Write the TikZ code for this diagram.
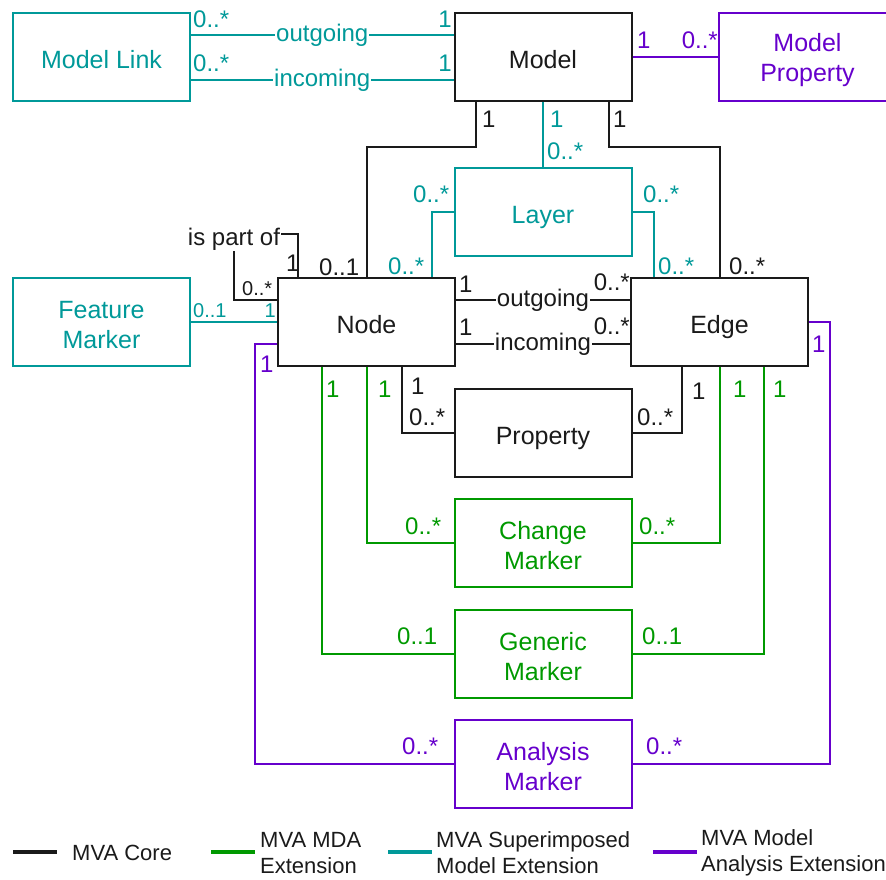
\documentclass[tikz,border=0pt]{standalone}
\usepackage{fontspec}
\setmainfont{Liberation Sans}
\definecolor{core}{RGB}{26,26,26}
\definecolor{mda}{RGB}{0,153,0}
\definecolor{sup}{RGB}{0,153,153}
\definecolor{ana}{RGB}{102,0,204}
% struts that set class names slightly below the box centre
\newcommand\boxstrut{\rule{0pt}{24pt}}
\newcommand\onestrut{\rule[-6pt]{0pt}{34pt}}
\tikzset{
  cls/.style={draw, line width=2pt, minimum width=177pt, minimum height=88pt,
    inner sep=0pt, align=center, font=\fontsize{25}{30}\selectfont},
  conn/.style={line width=2pt},
  mult/.style={inner sep=0pt, anchor=base west, font=\fontsize{24}{28}\selectfont},
  multr/.style={mult, anchor=base east},
  smult/.style={mult, font=\fontsize{20}{24}\selectfont},
  smultr/.style={smult, anchor=base east},
  role/.style={fill=white, inner sep=1pt, font=\fontsize{24}{28}\selectfont},
  legline/.style={line width=4pt},
  legtext/.style={anchor=west, inner sep=0pt, align=left, font=\fontsize{22}{26}\selectfont}
}
\begin{document}
\begin{tikzpicture}[x=1pt, y=-1pt]
\useasboundingbox (0,0) rectangle (886,879);

% classes
\node[cls, core] (Model) at (543,57) {\onestrut Model};
\node[cls, sup] (ML) at (101.5,57) {\onestrut Model Link};
\node[cls, ana] (MP) at (807.5,57) {\boxstrut Model\\Property};
\node[cls, sup] (Layer) at (543,212) {\onestrut Layer};
\node[cls, sup] (FM) at (101.5,322) {\boxstrut Feature\\Marker};
\node[cls, core] (Node) at (366.5,322) {\onestrut Node};
\node[cls, core] (Edge) at (719.5,322) {\onestrut Edge};
\node[cls, core] (Prop) at (543,433) {\onestrut Property};
\node[cls, mda] (CM) at (543,543) {\boxstrut Change\\Marker};
\node[cls, mda] (GM) at (543,653.5) {\boxstrut Generic\\Marker};
\node[cls, ana] (AM) at (543,764) {\boxstrut Analysis\\Marker};

% superimposed model extension
\draw[conn, sup] ([yshift=22pt]ML.east) -- node[role, text=sup] (mlo) {outgoing} ([yshift=22pt]Model.west);
\draw[conn, sup] ([yshift=-23pt]ML.east) -- node[role, text=sup] (mli) {incoming} ([yshift=-23pt]Model.west);
\draw[conn, sup] (Model.south) -- (Layer.north);
\draw[conn, sup] (Layer.west) -| ([xshift=65.5pt]Node.north);
\draw[conn, sup] (Layer.east) -| ([xshift=-65.5pt]Edge.north);
\draw[conn, sup] (FM.east) -- (Node.west);

% core
\draw[conn, core] ([xshift=-67pt]Model.south) -- ++(0,45) -| (Node.north);
\draw[conn, core] ([xshift=66pt]Model.south) -- ++(0,45) -| (Edge.north);
\draw[conn, core] ([yshift=22pt]Node.east) -- node[role, text=core] (neo) {outgoing} ([yshift=22pt]Edge.west);
\draw[conn, core] ([yshift=-22pt]Node.east) -- node[role, text=core] (nei) {incoming} ([yshift=-22pt]Edge.west);
\node[inner sep=1pt, text=core, font=\fontsize{24}{28}\selectfont] (partof) at (234,239) {is part of};
\draw[conn, core] ([xshift=-68.5pt]Node.north) |- ([yshift=5pt]partof.east);
\draw[conn, core] (partof.south) |- ([yshift=22pt]Node.west);
\draw[conn, core] ([xshift=35.5pt]Node.south) |- (Prop.west);
\draw[conn, core] ([xshift=-37.5pt]Edge.south) |- (Prop.east);

% model analysis extension
\draw[conn, ana] (Model.east) -- (MP.west);
\draw[conn, ana] ([yshift=-22pt]Node.west) -- ++(-22,0) |- (AM.west);
\draw[conn, ana] (Edge.east) -- ++(21,0) |- (AM.east);

% MDA extension
\draw[conn, mda] (Node.south) |- (CM.west);
\draw[conn, mda] ([xshift=-44.5pt]Node.south) |- (GM.west);
\draw[conn, mda] (Edge.south) |- (CM.east);
\draw[conn, mda] ([xshift=44.5pt]Edge.south) |- (GM.east);

% multiplicities: superimposed
\node[mult, text=sup] (s1) at (193,27) {0..*};
\node[multr, text=sup] (s2) at (452,27) {1};
\node[mult, text=sup] (s3) at (193,71) {0..*};
\node[multr, text=sup] (s4) at (452,71) {1};
\node[mult, text=sup] (s5) at (550,127) {1};
\node[mult, text=sup] (s6) at (547,159) {0..*};
\node[mult, text=sup] (s7) at (413,202) {0..*};
\node[mult, text=sup] (s8) at (388,274) {0..*};
\node[mult, text=sup] (s9) at (643,202) {0..*};
\node[mult, text=sup] (s10) at (658,274) {0..*};
\node[smult, text=sup] (s11) at (193,317) {0..1};
\node[smultr, text=sup] (s12) at (276,317) {1};

% multiplicities: core
\node[mult, text=core] (c1) at (482,127) {1};
\node[mult, text=core] (c2) at (613,127) {1};
\node[mult, text=core] (c3) at (286,271) {1};
\node[mult, text=core] (c4) at (319,275) {0..1};
\node[smult, text=core] (c5) at (242,295) {0..*};
\node[mult, text=core] (c6) at (729,274) {0..*};
\node[mult, text=core] (c7) at (459,292) {1};
\node[multr, text=core] (c8) at (630,290) {0..*};
\node[mult, text=core] (c9) at (459,335) {1};
\node[multr, text=core] (c10) at (630,334) {0..*};
\node[mult, text=core] (c11) at (411,394) {1};
\node[mult, text=core] (c12) at (409,425) {0..*};
\node[mult, text=core] (c13) at (637,425) {0..*};
\node[mult, text=core] (c14) at (692,399) {1};

% multiplicities: model analysis
\node[mult, text=ana] (a1) at (637,48) {1};
\node[multr, text=ana] (a2) at (718,48) {0..*};
\node[mult, text=ana] (a3) at (260,372) {1};
\node[mult, text=ana] (a4) at (812,352) {1};
\node[mult, text=ana] (a5) at (402,754) {0..*};
\node[mult, text=ana] (a6) at (646,754) {0..*};

% multiplicities: MDA
\node[mult, text=mda] (d1) at (326,397) {1};
\node[mult, text=mda] (d2) at (378,397) {1};
\node[mult, text=mda] (d3) at (733,397) {1};
\node[mult, text=mda] (d4) at (773,397) {1};
\node[mult, text=mda] (d5) at (405,534) {0..*};
\node[mult, text=mda] (d6) at (639,534) {0..*};
\node[mult, text=mda] (d7) at (397,644) {0..1};
\node[mult, text=mda] (d8) at (642,644) {0..1};

% legend
\draw[legline, core] (13,852) -- (57,852);
\node[legtext, text=core] (l1) at (72,853) {MVA Core};
\draw[legline, mda] (211,852) -- (255,852);
\node[legtext, text=core] (l2) at (260,853) {MVA MDA\\Extension};
\draw[legline, sup] (388,852) -- (432,852);
\node[legtext, text=core] (l3) at (436,853) {MVA Superimposed\\Model Extension};
\draw[legline, ana] (653,852) -- (697,852);
\node[legtext, text=core] (l4) at (701,853) {MVA Model\\Analysis Extension};
\end{tikzpicture}
\end{document}
